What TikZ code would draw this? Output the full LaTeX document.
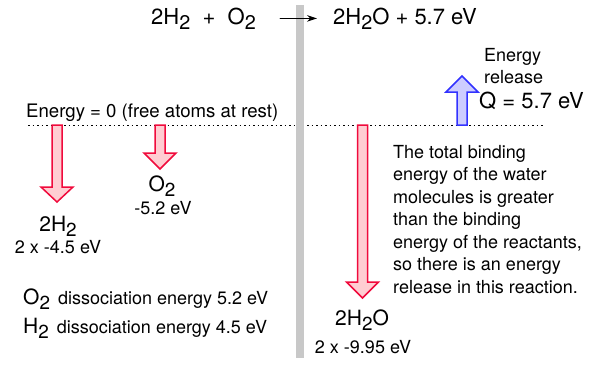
\documentclass[tikz,border=0pt]{standalone}
\usepackage{fontspec}
\setmainfont{TeX Gyre Heros}
\usetikzlibrary{arrows.meta}

\definecolor{arrowred}{RGB}{240,10,60}
\definecolor{arrowpink}{RGB}{255,205,210}
\definecolor{arrowblue}{RGB}{50,50,255}
\definecolor{arrowlilac}{RGB}{205,205,255}
\definecolor{bargray}{RGB}{200,200,200}

% chemical subscript, nearly full size and lowered
\newcommand{\chemsub}[1]{\raisebox{-0.24em}{\scalebox{0.9}{#1}}}
% block arrow: x, tail y, head base y, tip y
\newcommand{\blockarrow}[5][drop]{%
  \draw[#1] ({#2-5},#3) -- ({#2+5},#3) -- ({#2+5},#4) -- ({#2+16},#4)
    -- (#2,#5) -- ({#2-16},#4) -- ({#2-5},#4) -- cycle;}

\tikzset{
  lbl/.style={inner sep=0pt, font=\fontsize{18}{22.5}\selectfont},
  chem/.style={inner sep=0pt, font=\fontsize{21}{25}\selectfont},
  big/.style={inner sep=0pt, font=\fontsize{22}{26}\selectfont},
  drop/.style={draw=arrowred, fill=arrowpink, line width=1.5pt, line join=miter},
  rise/.style={draw=arrowblue, fill=arrowlilac, line width=1.5pt, line join=miter},
}

\begin{document}
\begin{tikzpicture}[x=1pt, y=-1pt, line join=round, line cap=round, >={Stealth[length=10pt,width=6.5pt]}]
			\useasboundingbox (0,0) rectangle (601,368);
			\draw[dash pattern=on 1.5pt off 3pt, line width=1pt, line cap=butt] (28,125) -- (545,125);
			\fill[bargray] (296,5) rectangle (304,358);

			\node[big, anchor=base east] (react) at (256,24) {2H\chemsub{2}\ \ +\ \ O\chemsub{2}};
			\node[big, anchor=base west] (prod) at (333,24) {2H\chemsub{2}O + 5.7 eV};
			\draw[->, line width=1pt, shorten <=24pt, shorten >=16pt] (react.east) -- (prod.west);

			\node[lbl, anchor=base west, font=\fontsize{18.6}{22}\selectfont] (zero) at (26,117) {Energy = 0 (free atoms at rest)};

			\blockarrow{57}{125}{187}{202}
			\blockarrow{160}{125}{153}{169}
			\blockarrow{362.5}{125}{282}{298}
			\blockarrow[rise]{462}{125}{92}{76}

			\node[chem, anchor=base] (h2) at (58,231) {2H\chemsub{2}};
			\node[lbl, anchor=base] (h2val) at (58,253) {2 x -4.5 eV};
			\node[chem, anchor=base] (o2) at (162,191) {O\chemsub{2}};
			\node[lbl, anchor=base] (o2val) at (163,214) {-5.2 eV};
			\node[chem, anchor=base] (h2o) at (362,325) {2H\chemsub{2}O};
			\node[lbl, anchor=base] (h2oval) at (363,353) {2 x -9.95 eV};

			\node[lbl, anchor=north west, align=left] (release) at (484,48) {Energy\\release};
			\node[big, anchor=base west] (qval) at (479,108) {Q = 5.7 eV};

			\node[lbl, anchor=north west, align=left] (explain) at (393,145)
			{The total binding\\energy of the water\\molecules is greater\\than the binding\\energy of the reactants,\\so there is an energy\\release in this reaction.};

			\node[lbl, anchor=base west] (o2diss) at (23,304) {{\fontsize{21}{25}\selectfont O\chemsub{2}}\hspace{0.45em}dissociation energy 5.2 eV};
			\node[lbl, anchor=base west] (h2diss) at (23,333) {{\fontsize{21}{25}\selectfont H\chemsub{2}}\hspace{0.45em}dissociation energy 4.5 eV};
		\end{tikzpicture}
\end{document}
